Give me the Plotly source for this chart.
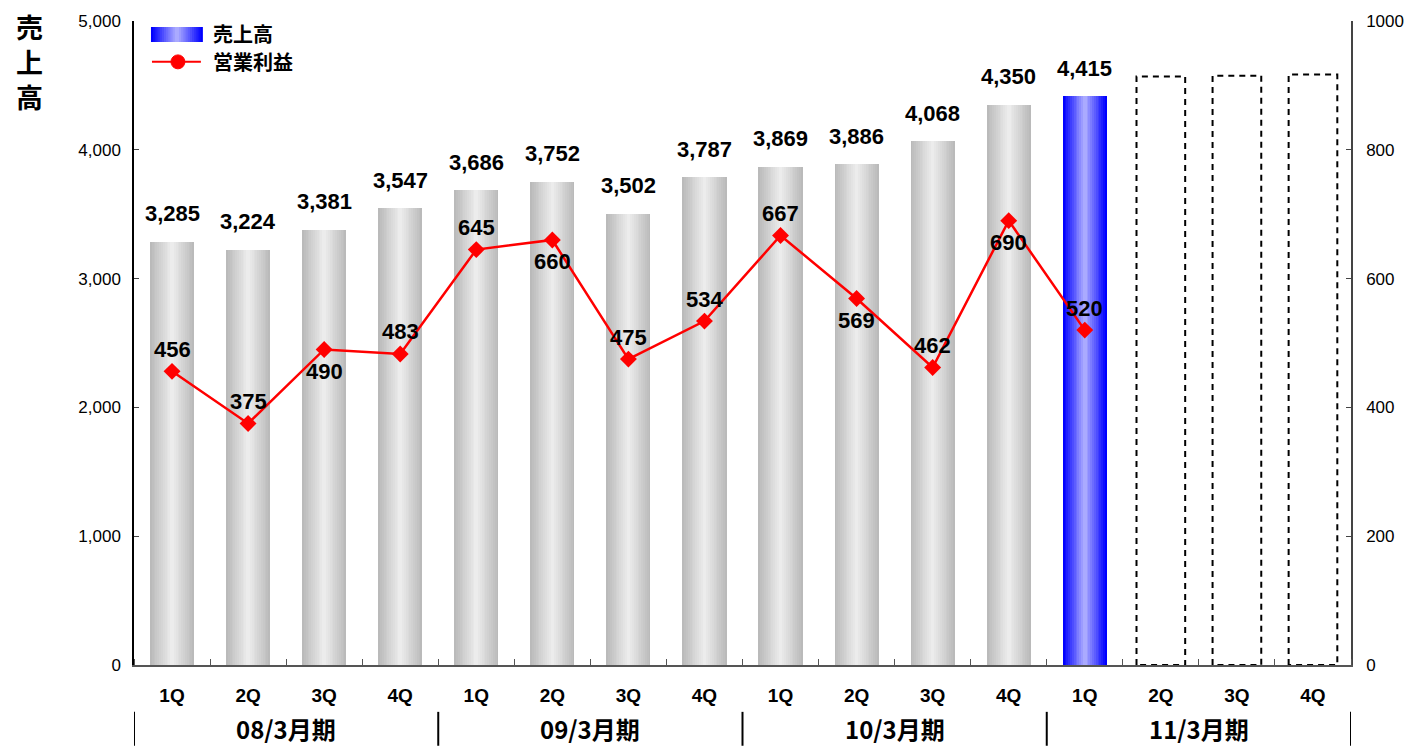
import plotly.graph_objects as go

# ---- data ----
quarters = ["1Q", "2Q", "3Q", "4Q"] * 4
periods = ["08/3月期", "09/3月期", "10/3月期", "11/3月期"]
sales = [3285, 3224, 3381, 3547, 3686, 3752, 3502, 3787, 3869, 3886, 4068, 4350, 4415]
op_profit = [456, 375, 490, 483, 645, 660, 475, 534, 667, 569, 462, 690, 520]
profit_label_side = [1, 1, -1, 1, 1, -1, 1, 1, 1, -1, 1, -1, 1]   # 1 = above marker, -1 = below
planned = [4570, 4575, 4585]   # dashed (forecast) outlines for 2Q-4Q of 11/3

n_cat = len(quarters)
xs = list(range(len(sales)))
xs_plan = list(range(len(sales), n_cat))

# plot-area pixel geometry (for paper-coordinate helpers)
W, H = 1416, 746
L, R, T, B = 134, 63, 19, 81
PW, PH = W - L - R, H - T - B
def px(x): return (x - L) / PW
def py(y): return (H - B - y) / PH

FONT = "Liberation Sans, Arial, Noto Sans CJK JP, sans-serif"
JFONT = "Noto Sans CJK JP, Liberation Sans, sans-serif"

fig = go.Figure()

def lerp(c1, c2, t):
    return "rgb(%d,%d,%d)" % tuple(round(a + (b - a) * t) for a, b in zip(c1, c2))

BAR_W = 0.58
STEPS = 12
gray_edge, gray_mid = (186, 186, 186), (236, 236, 236)
blue_edge, blue_mid = (0, 0, 255), (170, 170, 255)

gray_x, gray_y = xs[:-1], sales[:-1]
blue_x, blue_y = xs[-1:], sales[-1:]

for k in range(STEPS):
    t = k / (STEPS - 1)
    w = BAR_W * (1 - k / STEPS)
    fig.add_trace(go.Bar(
        x=gray_x, y=gray_y, width=w, marker=dict(color=lerp(gray_edge, gray_mid, t), line=dict(width=0)),
        showlegend=False, hoverinfo="skip"))
    fig.add_trace(go.Bar(
        x=blue_x, y=blue_y, width=w, marker=dict(color=lerp(blue_edge, blue_mid, t), line=dict(width=0)),
        showlegend=False, hoverinfo="skip"))

# dashed forecast outlines
hw = 0.32
for xi, v in zip(xs_plan, planned):
    fig.add_trace(go.Scatter(
        x=[xi - hw, xi - hw, xi + hw, xi + hw, xi - hw], y=[0, v, v, 0, 0],
        mode="lines", line=dict(color="black", width=2, dash="6px,5px"),
        showlegend=False, hoverinfo="skip"))

# operating profit line
fig.add_trace(go.Scatter(
    x=xs, y=op_profit, yaxis="y2", mode="lines+markers",
    line=dict(color="#ff0000", width=2.5),
    marker=dict(symbol="diamond", size=13, color="#ff0000"),
    showlegend=False, cliponaxis=False))

fig.update_layout(
    width=W, height=H, margin=dict(l=L, r=R, t=T, b=B),
    plot_bgcolor="white", paper_bgcolor="white",
    barmode="overlay", bargap=0,
    font=dict(family=FONT, color="black"),
    xaxis=dict(range=[-0.5, n_cat - 0.5], tickvals=list(range(n_cat)), ticktext=quarters,
               ticks="", showgrid=False, zeroline=False, showline=True, linecolor="#555555", linewidth=2,
               tickfont=dict(family=FONT, size=19, weight="bold"), ticklabelstandoff=12,
               minor=dict(tick0=-0.5, dtick=1, ticks="inside", ticklen=6, tickcolor="#555555", tickwidth=1),
               ),
    yaxis=dict(range=[0, 5000], dtick=1000, tickformat=",", showgrid=False, zeroline=False,
               showline=True, linecolor="black", linewidth=1.5, ticks="inside", ticklen=5,
               tickfont=dict(family=FONT, size=17), ticklabelstandoff=8),
    yaxis2=dict(range=[0, 1000], dtick=200, overlaying="y", side="right", showgrid=False,
                zeroline=False, showline=True, linecolor="#444444", linewidth=1.5, ticks="inside",
                ticklen=5, tickfont=dict(family=FONT, size=17), ticklabelstandoff=10),
    showlegend=False,
)

shapes = []
annotations = []

# value labels
for xi, v in zip(xs, sales):
    annotations.append(dict(xref="x", yref="y", x=xi, y=v, text=f"{v:,}", showarrow=False,
                            yshift=28, yanchor="middle", xanchor="center",
                            font=dict(family=FONT, size=22, color="black", weight="bold")))
for xi, v, s in zip(xs, op_profit, profit_label_side):
    annotations.append(dict(xref="x", yref="y2", x=xi, y=v, text=str(v), showarrow=False,
                            yshift=22 * s, yanchor="middle", xanchor="center",
                            font=dict(family=FONT, size=22, color="black", weight="bold")))

# period group labels and separators
bounds = [-0.5, 3.5, 7.5, 11.5, 15.5]
for b in bounds:
    shapes.append(dict(type="line", xref="x", yref="paper", x0=b, x1=b,
                       y0=py(712), y1=py(746), line=dict(color="black", width=2)))
for i, p in enumerate(periods):
    annotations.append(dict(xref="x", yref="paper", x=(bounds[i] + bounds[i + 1]) / 2, y=py(729),
                            text=p, showarrow=False, font=dict(family=JFONT, size=24, weight="bold"),
                            xanchor="center", yanchor="middle", borderpad=0))

# y-axis title
annotations.append(dict(xref="paper", yref="paper", x=px(29), y=py(60), text="売<br>上<br>高",
                        showarrow=False, font=dict(family=JFONT, size=27, weight="bold"),
                        xanchor="center", yanchor="middle"))

# custom legend
for k in range(STEPS):
    t = k / (STEPS - 1)
    half = 26 * (1 - k / STEPS)
    shapes.append(dict(type="rect", xref="paper", yref="paper",
                       x0=px(177 - half), x1=px(177 + half), y0=py(40), y1=py(25),
                       fillcolor=lerp(blue_edge, blue_mid, t), line=dict(width=0)))
annotations.append(dict(xref="paper", yref="paper", x=px(211), y=py(32), text="売上高",
                        showarrow=False, font=dict(family=JFONT, size=20, weight="bold"),
                        xanchor="left", yanchor="middle"))
shapes.append(dict(type="line", xref="paper", yref="paper", x0=px(152), x1=px(201), y0=py(60), y1=py(60),
                   line=dict(color="#ff0000", width=2)))
shapes.append(dict(type="circle", xref="paper", yref="paper", x0=px(171), x1=px(185), y0=py(67), y1=py(53),
                   fillcolor="#ff0000", line=dict(color="#ff0000", width=1)))
annotations.append(dict(xref="paper", yref="paper", x=px(211), y=py(60), text="営業利益",
                        showarrow=False, font=dict(family=JFONT, size=20, weight="bold"),
                        xanchor="left", yanchor="middle"))

fig.update_layout(shapes=shapes, annotations=annotations)
fig.write_html("out.html", config={"displayModeBar": False},
               post_script="document.body.style.margin='0px';")
